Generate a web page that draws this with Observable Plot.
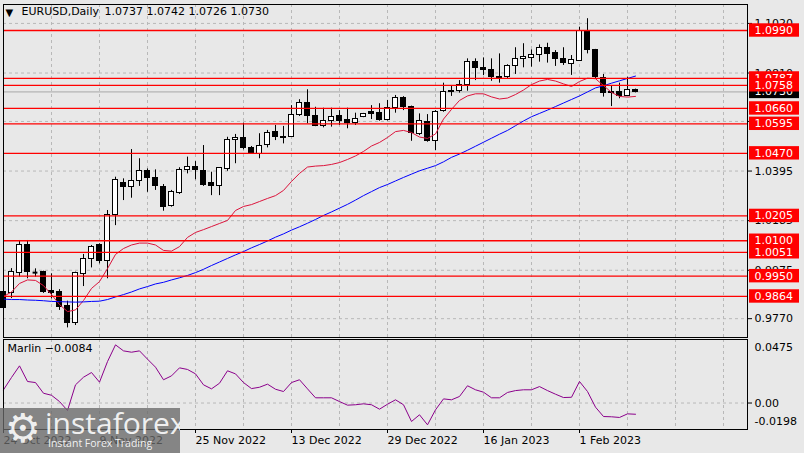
<!DOCTYPE html>
<html><head><meta charset="utf-8">
<script src="https://cdn.jsdelivr.net/npm/d3@7"></script>
<script src="https://cdn.jsdelivr.net/npm/@observablehq/plot@0.6"></script>
<style>
html,body{margin:0;padding:0;background:#e8e8e8;}
#wrap{position:relative;width:804px;height:453px;overflow:hidden;background:#e8e8e8;font-family:"DejaVu Sans",sans-serif;}
#main{position:absolute;left:0;top:0;}
#ind{position:absolute;left:0;top:338px;}
#wm{position:absolute;left:0;top:408px;width:180px;height:45px;background:rgba(105,105,105,0.78);color:rgba(255,255,255,0.9);overflow:hidden;}
#wm .gear{position:absolute;left:5px;top:-4px;font-size:40px;line-height:48px;font-family:"DejaVu Sans";}
#wm .big{position:absolute;left:45px;top:-1px;font-size:30px;line-height:32px;font-family:"Open Sans";}
#wm .small{position:absolute;left:48px;top:29px;font-size:10.5px;line-height:13px;font-family:"Open Sans";}
</style></head>
<body><div id="wrap"><div id="main"></div><div id="ind"></div>
<div id="wm"><span class="gear">⚙</span><span class="big">instaforex</span><span class="small">Instant Forex Trading</span></div>
</div>
<script>
// ---- data (daily bars, index 0 = 24 Oct 2022) ----
const symbol = "EURUSD";
const timeframe = "Daily";
const open = [0.9882,0.9878,0.9962,1.0084,0.9967,0.9967,0.9889,0.9882,0.9822,0.9751,
0.9960,1.0023,1.0080,1.0016,1.0207,1.0344,1.0327,1.0352,1.0397,1.0365,
1.0327,1.0245,1.0303,1.0400,1.0414,1.0397,1.0346,1.0330,1.0404,1.0527,
1.0536,1.0493,1.0468,1.0507,1.0559,1.0541,1.0538,1.0634,1.0682,1.0630,
1.0585,1.0606,1.0626,1.0609,1.0599,1.0623,1.0644,1.0642,1.0609,1.0663,
1.0705,1.0665,1.0550,1.0602,1.0524,1.0648,1.0736,1.0736,1.0761,1.0856,
1.0832,1.0824,1.0795,1.0792,1.0838,1.0868,1.0874,1.0888,1.0917,1.0894,
1.0870,1.0849,1.0863,1.0990,1.0908,1.0790,1.0729,1.0729,1.0712,1.0737];
const high = [0.9930,0.9982,1.0101,1.0101,0.9981,0.9971,0.9960,0.9893,0.9844,0.9967,
1.0042,1.0080,1.0087,1.0228,1.0369,1.0362,1.0486,1.0447,1.0404,1.0400,
1.0338,1.0313,1.0409,1.0454,1.0435,1.0503,1.0390,1.0410,1.0538,1.0550,
1.0598,1.0499,1.0553,1.0567,1.0588,1.0584,1.0672,1.0697,1.0739,1.0665,
1.0661,1.0661,1.0651,1.0661,1.0640,1.0639,1.0672,1.0680,1.0694,1.0715,
1.0710,1.0670,1.0637,1.0634,1.0651,1.0767,1.0757,1.0778,1.0870,1.0870,
1.0874,1.0870,1.0891,1.0845,1.0917,1.0934,1.0908,1.0929,1.0936,1.0905,
1.0917,1.0884,1.1004,1.1040,1.0910,1.0804,1.0757,1.0767,1.0792,1.0742];
const low = [0.9800,0.9855,0.9946,0.9939,0.9946,0.9877,0.9854,0.9805,0.9731,0.9741,
0.9906,0.9985,1.0002,0.9939,1.0164,1.0270,1.0280,1.0330,1.0305,1.0313,
1.0225,1.0242,1.0296,1.0383,1.0358,1.0330,1.0291,1.0291,1.0394,1.0426,
1.0485,1.0465,1.0447,1.0493,1.0524,1.0510,1.0537,1.0626,1.0595,1.0583,
1.0578,1.0581,1.0588,1.0574,1.0588,1.0621,1.0613,1.0606,1.0607,1.0640,
1.0651,1.0521,1.0545,1.0517,1.0482,1.0644,1.0711,1.0725,1.0733,1.0778,
1.0799,1.0775,1.0767,1.0786,1.0804,1.0832,1.0835,1.0856,1.0852,1.0838,
1.0842,1.0800,1.0861,1.0891,1.0785,1.0708,1.0668,1.0701,1.0712,1.0726];
const close = [0.9815,0.9967,1.0084,0.9967,0.9965,0.9885,0.9878,0.9819,0.9751,0.9963,
1.0023,1.0073,1.0013,1.0207,1.0359,1.0327,1.0351,1.0397,1.0365,1.0330,
1.0242,1.0308,1.0400,1.0414,1.0400,1.0338,1.0330,1.0409,1.0527,1.0536,
1.0493,1.0468,1.0503,1.0555,1.0538,1.0534,1.0634,1.0682,1.0630,1.0585,
1.0606,1.0623,1.0606,1.0600,1.0616,1.0637,1.0637,1.0613,1.0663,1.0705,
1.0665,1.0555,1.0606,1.0524,1.0644,1.0729,1.0729,1.0761,1.0856,1.0832,
1.0821,1.0792,1.0790,1.0838,1.0868,1.0876,1.0888,1.0917,1.0891,1.0870,
1.0852,1.0866,1.0990,1.0908,1.0795,1.0725,1.0724,1.0711,1.0739,1.0730];
// fast moving average (red) and slow moving average (blue)
const maFast = [0.9864,0.9883,0.9919,0.9934,0.9932,0.9910,0.9872,0.9830,0.9800,0.9807,
0.9847,0.9898,0.9927,0.9982,1.0042,1.0067,1.0082,1.0090,1.0090,1.0082,
1.0059,1.0056,1.0075,1.0114,1.0135,1.0147,1.0160,1.0173,1.0186,1.0228,
1.0245,1.0253,1.0266,1.0279,1.0291,1.0313,1.0351,1.0385,1.0412,1.0416,
1.0418,1.0423,1.0431,1.0444,1.0459,1.0478,1.0501,1.0516,1.0537,1.0562,
1.0567,1.0558,1.0539,1.0533,1.0552,1.0615,1.0656,1.0694,1.0713,1.0722,
1.0722,1.0709,1.0700,1.0704,1.0719,1.0738,1.0761,1.0776,1.0783,1.0776,
1.0764,1.0753,1.0774,1.0788,1.0786,1.0757,1.0728,1.0711,1.0708,1.0711];
const maSlow = [0.9853,0.9851,0.9851,0.9849,0.9848,0.9846,0.9843,0.9842,0.9841,0.9840,
0.9841,0.9843,0.9844,0.9851,0.9862,0.9872,0.9883,0.9896,0.9906,0.9917,
0.9924,0.9934,0.9943,0.9953,0.9965,0.9979,0.9995,1.0010,1.0025,1.0040,
1.0054,1.0070,1.0084,1.0099,1.0115,1.0129,1.0145,1.0159,1.0174,1.0190,
1.0207,1.0222,1.0238,1.0254,1.0272,1.0291,1.0308,1.0325,1.0338,1.0353,
1.0368,1.0382,1.0396,1.0407,1.0418,1.0434,1.0453,1.0467,1.0483,1.0500,
1.0517,1.0534,1.0551,1.0567,1.0587,1.0607,1.0625,1.0639,1.0653,1.0668,
1.0683,1.0698,1.0713,1.0730,1.0747,1.0756,1.0767,1.0777,1.0787,1.0797];
// Marlin oscillator
const marlin = [0.0099,0.0191,0.0278,0.0161,0.0153,0.0073,0.0058,0.0011,-0.0056,0.0136,
0.0193,0.0228,0.0156,0.0310,0.0435,0.0390,0.0380,0.0390,0.0328,0.0268,
0.0174,0.0203,0.0263,0.0251,0.0218,0.0136,0.0106,0.0148,0.0241,0.0218,
0.0153,0.0108,0.0118,0.0141,0.0103,0.0086,0.0153,0.0174,0.0106,0.0039,
0.0039,0.0039,0.0011,-0.0016,-0.0013,-0.0006,-0.0013,-0.0046,-0.0009,0.0024,
-0.0013,-0.0138,-0.0088,-0.0163,-0.0051,0.0031,0.0024,0.0049,0.0129,0.0099,
0.0081,0.0039,0.0039,0.0079,0.0093,0.0099,0.0099,0.0123,0.0093,0.0066,
0.0041,0.0043,0.0161,0.0086,-0.0031,-0.0101,-0.0103,-0.0108,-0.0081,-0.0084];
// horizontal levels (red lines)
const levels = [1.0990,1.0787,1.0758,1.0660,1.0595,1.0470,1.0205,1.0100,1.0051,0.9950,0.9864];
// price axis ticks
const priceTicks = [0.9770,0.9975,1.0185,1.0395,1.0605,1.0810,1.1020];
// Marlin axis
const marlinTicks = [0.0475,0.0,-0.0198];
const marlinTickLabels = ["0.0475","0.00","-0.0198"];
// date axis
const xTickIdx = [0,12,24,36,48,60,72];
const xTickLabels = ["24 Oct 2022","9 Nov 2022","25 Nov 2022","13 Dec 2022","29 Dec 2022","16 Jan 2023","1 Feb 2023"];
</script>
<script>
const n = open.length;
const candles = open.map((o,i)=>({i, o, h: high[i], l: low[i], c: close[i]}));
const bulls = candles.filter(d => d.c - d.o >= 0.0004);
const bears = candles.filter(d => d.o - d.c >= 0.0004);
const dojis = candles.filter(d => Math.abs(d.o - d.c) < 0.0004);
const half = 0.3;
const vGrid = d3.range(6, 93, 6);
const boxX1 = 93.25, boxX2 = 99.5, boxHalf = 0.00284;
const last = candles[n-1];
const fmt = d3.format(".4f");
const grid = {stroke:"#b8b8b8", strokeDasharray:"3,3"};
const font = "DejaVu Sans";

const labelMarks = [];
labelMarks.push(Plot.rect([last.c], {x1: boxX1, x2: boxX2, y1: d=>d-boxHalf, y2: d=>d+boxHalf, fill:"black"}));
labelMarks.push(Plot.text([last.c], {y: d=>d, text: d=>fmt(d), frameAnchor:"right", dx:7, textAnchor:"start", fill:"white", fontSize:11}));
for (const v of levels) {
  labelMarks.push(Plot.rect([v], {x1: boxX1, x2: boxX2, y1: d=>d-boxHalf, y2: d=>d+boxHalf, fill:"#ff0000"}));
  labelMarks.push(Plot.text([v], {y: d=>d, text: d=>fmt(d), frameAnchor:"right", dx:7, textAnchor:"start", fill:"white", fontSize:11}));
}

const main = Plot.plot({
  width: 804, height: 338,
  marginLeft: 3, marginRight: 57, marginTop: 4, marginBottom: 1,
  x: {domain: [0, 93], axis: null},
  y: {domain: [0.96903, 1.11001], axis: null},
  style: {background: "transparent", fontFamily: font, fontSize: "11px", color: "black", overflow: "visible"},
  marks: [
    Plot.ruleX(vGrid, grid),
    Plot.ruleY(priceTicks, grid),
    Plot.ruleY([last.c], {stroke:"#a8a8a8"}),
    Plot.ruleX(candles, {x:"i", y1:"l", y2:"h", stroke:"black"}),
    Plot.rect(bulls, {x1: d=>d.i-half, x2: d=>d.i+half, y1:"o", y2:"c", fill:"white", stroke:"black", shapeRendering:"crispEdges"}),
    Plot.rect(bears, {x1: d=>d.i-half, x2: d=>d.i+half, y1:"o", y2:"c", fill:"black", stroke:"black", shapeRendering:"crispEdges"}),
    Plot.ruleY(dojis, {x1: d=>d.i-half, x2: d=>d.i+half, y:"c", stroke:"black", strokeWidth: 2}),
    Plot.line(maFast, {x:(d,i)=>i, y:d=>d, stroke:"#dc143c", strokeWidth:1}),
    Plot.line(maSlow, {x:(d,i)=>i, y:d=>d, stroke:"#0000ff", strokeWidth:1}),
    Plot.ruleY(levels, {stroke:"#ff0000", strokeWidth:1.3}),
    Plot.frame({stroke:"black"}),
    Plot.axisY({anchor:"right", ticks: priceTicks, tickFormat: fmt, tickSize: 4, tickPadding: 3, fontSize: 11}),
    ...labelMarks,
    Plot.text(["▼"], {frameAnchor:"top-left", dx:2, dy:4, lineAnchor:"top", textAnchor:"start", fontSize:10}),
    Plot.text([`${symbol},${timeframe}`], {frameAnchor:"top-left", dx:18, dy:3, lineAnchor:"top", textAnchor:"start", fontSize:11}),
    Plot.text([[last.o,last.h,last.l,last.c].map(fmt).join(" ")], {frameAnchor:"top-left", dx:101, dy:3, lineAnchor:"top", textAnchor:"start", fontSize:11})
  ]
});
document.getElementById("main").appendChild(main);

const ind = Plot.plot({
  width: 804, height: 115,
  marginLeft: 3, marginRight: 57, marginTop: 1, marginBottom: 24,
  x: {domain: [0, 93], axis: null},
  y: {domain: [-0.0198, 0.0475], axis: null},
  style: {background: "transparent", fontFamily: font, fontSize: "11px", color: "black", overflow: "visible"},
  marks: [
    Plot.ruleX(vGrid, grid),
    Plot.ruleY([0], grid),
    Plot.line(marlin, {x:(d,i)=>i, y:d=>d, stroke:"#8b008b", strokeWidth:1}),
    Plot.frame({stroke:"black"}),
    Plot.axisX({anchor:"bottom", ticks: xTickIdx, tickFormat: d => xTickLabels[xTickIdx.indexOf(d)], tickSize: 4, tickPadding: 3, textAnchor:"start", fontSize: 11}),
    Plot.axisY({anchor:"right", ticks: [0], tickFormat: () => "", tickSize: 4}),
    Plot.text([marlinTicks[0]], {y:d=>d, text:()=>marlinTickLabels[0], frameAnchor:"right", dx:7, dy:8, textAnchor:"start", fontSize:11}),
    Plot.text([marlinTicks[1]], {y:d=>d, text:()=>marlinTickLabels[1], frameAnchor:"right", dx:7, textAnchor:"start", fontSize:11}),
    Plot.text([marlinTicks[2]], {y:d=>d, text:()=>marlinTickLabels[2], frameAnchor:"right", dx:7, dy:-8, textAnchor:"start", fontSize:11}),
    Plot.text([`Marlin ${fmt(marlin[n-1])}`], {frameAnchor:"top-left", dx:4, dy:5, lineAnchor:"top", textAnchor:"start", fontSize:11})
  ]
});
document.getElementById("ind").appendChild(ind);
</script>
</body></html>
